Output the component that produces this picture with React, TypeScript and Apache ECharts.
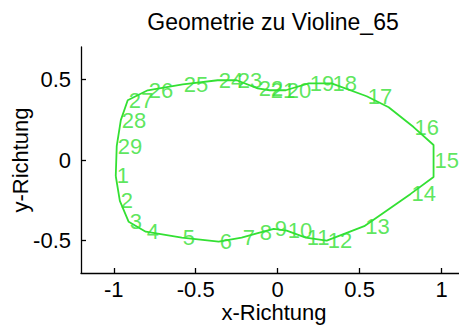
import React, { useEffect, useRef } from "react";
import * as echarts from "echarts";

const TITLE = "Geometrie zu Violine_65";
const X_NAME = "x-Richtung";
const Y_NAME = "y-Richtung";

// numbered measurement points (x, y)
const POINT_IDS = [1,2,3,4,5,6,7,8,9,10,11,12,13,14,15,16,17,18,19,20,21,22,23,24,25,26,27,28,29];
const POINT_X = [-0.988,-0.963,-0.909,-0.805,-0.585,-0.36,-0.22,-0.116,-0.024,0.055,0.171,0.299,0.528,0.811,0.951,0.829,0.543,0.329,0.189,0.049,-0.049,-0.122,-0.25,-0.366,-0.579,-0.793,-0.915,-0.957,-0.982];
const POINT_Y = [-0.099,-0.253,-0.383,-0.444,-0.481,-0.506,-0.481,-0.451,-0.426,-0.438,-0.481,-0.5,-0.41,-0.21,0.0,0.204,0.395,0.475,0.475,0.432,0.432,0.444,0.494,0.494,0.469,0.432,0.37,0.247,0.086];

// outline polygon (includes a few unlabeled corner points)
const OUTLINE_X = [-0.988,-0.963,-0.909,-0.805,-0.585,-0.36,-0.22,-0.116,-0.024,0.055,0.171,0.299,0.528,0.811,0.951,0.951,0.951,0.829,0.677,0.543,0.329,0.189,0.049,-0.049,-0.122,-0.25,-0.366,-0.579,-0.793,-0.915,-0.957,-0.982,-0.988];
const OUTLINE_Y = [-0.099,-0.253,-0.383,-0.444,-0.481,-0.506,-0.481,-0.451,-0.426,-0.438,-0.481,-0.5,-0.41,-0.21,-0.105,0.0,0.093,0.204,0.327,0.395,0.475,0.475,0.432,0.432,0.444,0.494,0.494,0.469,0.432,0.37,0.247,0.086,-0.099];

const X_TICKS = [-1, -0.5, 0, 0.5, 1];
const Y_TICKS = [-0.5, 0, 0.5];
const X_MIN = -1.2, X_MAX = 1.155, Y_MIN = -0.7, Y_MAX = 0.7;

const GREEN = "#33e033";
const FONT = "Liberation Sans";

export default function App() {
  const ref = useRef<HTMLDivElement>(null);
  useEffect(() => {
    if (!ref.current) return;
    const chart = echarts.init(ref.current, null, { renderer: "svg" });
    const axisCommon = {
      type: "value" as const,
      splitLine: { show: false },
      axisLine: { show: true, onZero: false, lineStyle: { color: "#000", width: 1.3 } },
      nameLocation: "middle" as const,
      nameMoveOverlap: false,
      nameTextStyle: { color: "#000", fontSize: 22, fontFamily: FONT },
    };
    chart.setOption({
      animation: false,
      backgroundColor: "#fff",
      graphic: [
        {
          type: "text",
          x: 273,
          y: 22,
          style: { text: TITLE, fill: "#000", font: `23px "${FONT}"`, textAlign: "center", textVerticalAlign: "middle" },
        },
      ],
      grid: { left: 81, right: 0, top: 47, bottom: 62, outerBoundsMode: "none", containLabel: false },
      xAxis: {
        ...axisCommon,
        min: X_MIN,
        max: X_MAX,
        name: X_NAME,
        nameGap: 28,
        axisTick: { show: true, inside: true, length: 5, customValues: X_TICKS, lineStyle: { color: "#000", width: 1.3 } },
        axisLabel: { color: "#000", fontSize: 22, fontFamily: FONT, margin: 5, customValues: X_TICKS, formatter: (v: number) => String(v) },
      },
      yAxis: {
        ...axisCommon,
        min: Y_MIN,
        max: Y_MAX,
        name: Y_NAME,
        nameGap: 50,
        axisTick: { show: true, inside: true, length: 5, customValues: Y_TICKS, lineStyle: { color: "#000", width: 1.3 } },
        axisLabel: { color: "#000", fontSize: 22, fontFamily: FONT, margin: 10, customValues: Y_TICKS, formatter: (v: number) => String(v) },
      },
      series: [
        {
          type: "line",
          data: OUTLINE_X.map((x, i) => [x, OUTLINE_Y[i]]),
          showSymbol: false,
          lineStyle: { color: GREEN, width: 1.8 },
          silent: true,
        },
        {
          type: "scatter",
          data: POINT_X.map((x, i) => [x, POINT_Y[i], POINT_IDS[i]]),
          symbolSize: 0,
          label: {
            show: true,
            position: "right",
            distance: 1,
            formatter: (p: any) => String(p.value[2]),
            color: GREEN,
            fontSize: 22,
            fontFamily: FONT,
          },
          labelLayout: { hideOverlap: false },
          silent: true,
        },
      ],
    });
    return () => chart.dispose();
  }, []);
  return <div ref={ref} style={{ width: 467, height: 335, margin: -8 }} />;
}
